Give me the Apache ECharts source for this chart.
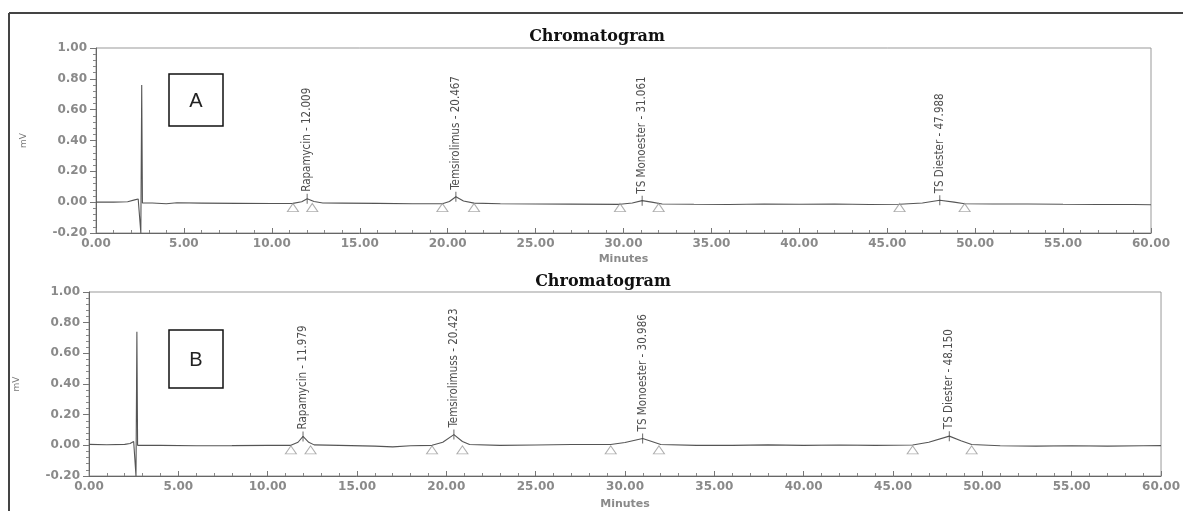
<!DOCTYPE html>
<html>
<head>
<meta charset="utf-8">
<script src="https://cdn.jsdelivr.net/npm/echarts@6/dist/echarts.min.js"></script>
<style>
html,body{margin:0;padding:0;background:#fff;}
#chart{width:1183px;height:511px;}
</style>
</head>
<body>
<div id="chart"></div>
<script>
// ---- Data ----
// Trace A: [minutes, mV]
const traceA = [
  [0,0.0],[1.0,0.0],[1.8,0.003],[2.2,0.015],[2.4,0.02],[2.5,0.015],[2.55,-0.2],[2.6,0.76],[2.64,-0.005],
  [3.2,-0.005],[4.0,-0.01],[4.6,-0.004],[6,-0.006],[8,-0.008],[10,-0.009],[11.2,-0.008],[11.7,0.003],
  [12.009,0.022],[12.4,0.004],[12.9,-0.005],[14,-0.006],[16,-0.008],[18,-0.01],[19.7,-0.01],[20.1,0.004],
  [20.467,0.035],[20.9,0.008],[21.5,-0.006],[23,-0.01],[25,-0.012],[27,-0.013],[29.8,-0.014],[30.5,-0.005],
  [31.061,0.01],[31.6,0.0],[32.2,-0.012],[34,-0.014],[36,-0.015],[38,-0.012],[40,-0.014],[42,-0.012],
  [44,-0.015],[45.7,-0.014],[47,-0.005],[47.988,0.012],[48.8,0.0],[49.4,-0.01],[51,-0.012],[53,-0.012],
  [55,-0.014],[57,-0.015],[59,-0.015],[60,-0.017]
];
// Trace B: [minutes, mV]
const traceB = [
  [0,0.006],[1,0.004],[2,0.006],[2.3,0.012],[2.5,0.025],[2.6,0.03],[2.63,-0.2],[2.68,0.74],[2.72,0.0],
  [4,0.0],[6,-0.003],[8,-0.002],[10,0.0],[11.3,0.0],[11.7,0.02],[11.979,0.058],[12.3,0.02],[12.6,0.003],
  [14,0.0],[16,-0.005],[17,-0.01],[18,-0.003],[19.2,0.0],[19.8,0.02],[20.423,0.07],[20.9,0.025],[21.3,0.005],
  [23,0.0],[25,0.002],[27,0.005],[29.2,0.005],[30,0.018],[30.986,0.045],[31.5,0.025],[32,0.005],[34,0.0],
  [36,0.0],[38,0.003],[40,0.0],[42,0.002],[44,0.0],[46.1,0.002],[47,0.02],[48.15,0.06],[48.8,0.03],
  [49.4,0.005],[51,-0.003],[53,-0.005],[55,-0.003],[57,-0.005],[59,-0.003],[60,-0.002]
];
const peakNamesA = ["Rapamycin - 12.009", "Temsirolimus - 20.467", "TS Monoester - 31.061", "TS Diester - 47.988"];
const peakTimesA = [12.009, 20.467, 31.061, 47.988];
const peakHeightsA = [0.022, 0.035, 0.01, 0.012];
const peakNamesB = ["Rapamycin - 11.979", "Temsirolimuss - 20.423", "TS Monoester - 30.986", "TS Diester - 48.150"];
const peakTimesB = [11.979, 20.423, 30.986, 48.150];
const peakHeightsB = [0.058, 0.07, 0.045, 0.06];
const markerTimesA = [11.2, 12.3, 19.7, 21.5, 29.8, 32.0, 45.7, 49.4];
const markerTimesB = [11.3, 12.4, 19.2, 20.9, 29.2, 31.9, 46.1, 49.4];
const markerLevelA = -0.035;
const markerLevelB = -0.03;
const chartTitles = ["Chromatogram", "Chromatogram"];
const panelLetters = ["A", "B"];
const yTicks = { min: -0.2, max: 1.0, interval: 0.2 };
const xTicks = { min: 0, max: 60, interval: 5 };

// ---- Chart ----
const chart = echarts.init(document.getElementById('chart'), null, { renderer: 'canvas' });
const tickFont = { color: '#8a8a8a', fontFamily: 'DejaVu Sans', fontWeight: 'bold', fontSize: 12 };
const peakFont = "'Liberation Sans Narrow', 'DejaVu Sans Condensed', 'Liberation Sans', sans-serif";

function xAxisCfg(gridIndex, gap) {
  return {
    type: 'value', gridIndex, min: xTicks.min, max: xTicks.max, interval: xTicks.interval,
    name: 'Minutes', nameLocation: 'middle', nameGap: gap,
    nameTextStyle: { color: '#8a8a8a', fontFamily: 'DejaVu Sans', fontWeight: 'bold', fontSize: 11 },
    axisLine: { show: true, onZero: false, lineStyle: { color: '#666', width: 1 } },
    axisTick: { show: true, inside: true, length: 5, lineStyle: { color: '#777' } },
    minorTick: { show: true, splitNumber: 5, length: 3, lineStyle: { color: '#888' } },
    axisLabel: Object.assign({ margin: 5, formatter: v => v.toFixed(2), showMinLabel: true, showMaxLabel: true }, tickFont),
    splitLine: { show: false }
  };
}
function yAxisCfg(gridIndex) {
  return {
    type: 'value', gridIndex, min: yTicks.min, max: yTicks.max, interval: yTicks.interval,
    name: 'mV', nameLocation: 'middle', nameGap: 68, nameRotate: 90,
    nameTextStyle: { color: '#777', fontFamily: 'DejaVu Sans', fontSize: 9 },
    axisLine: { show: true, onZero: false, lineStyle: { color: '#666', width: 1 } },
    axisTick: { show: true, inside: false, length: 6, lineStyle: { color: '#777' } },
    minorTick: { show: true, splitNumber: 5, length: 3, lineStyle: { color: '#888' } },
    axisLabel: Object.assign({ margin: 9, formatter: v => v.toFixed(2) }, tickFont),
    splitLine: { show: false }
  };
}
function peakSeries(idx, times, heights, names) {
  return {
    type: 'scatter', xAxisIndex: idx, yAxisIndex: idx, z: 5,
    symbol: 'rect', symbolSize: [1, 10],
    itemStyle: { color: '#444' },
    data: times.map((t, i) => [t, heights[i]]),
    label: {
      show: true, position: 'top', distance: 2, rotate: 90, align: 'left', verticalAlign: 'middle',
      formatter: p => names[p.dataIndex],
      color: '#222', fontFamily: peakFont, fontSize: 11.5
    },
    emphasis: { disabled: true }, silent: true
  };
}
function markerSeries(idx, times, level) {
  return {
    type: 'scatter', xAxisIndex: idx, yAxisIndex: idx, z: 4,
    symbol: 'triangle', symbolSize: [11, 8],
    itemStyle: { color: 'rgba(255,255,255,0)', borderColor: '#9a9a9a', borderWidth: 1 },
    data: times.map(t => [t, level]),
    emphasis: { disabled: true }, silent: true
  };
}

const option = {
  animation: false,
  backgroundColor: '#fff',
  grid: [
    { left: 96, right: 32, top: 48, height: 185, show: true, borderColor: '#999', borderWidth: 1, backgroundColor: 'transparent' },
    { left: 89, right: 16, top: 292, height: 184, show: true, borderColor: '#999', borderWidth: 1, backgroundColor: 'transparent' }
  ],
  xAxis: [xAxisCfg(0, 21), xAxisCfg(1, 23)],
  yAxis: [yAxisCfg(0), yAxisCfg(1)],
  series: [
    { type: 'line', xAxisIndex: 0, yAxisIndex: 0, data: traceA, showSymbol: false, symbol: 'none',
      lineStyle: { color: '#555', width: 1.1 }, silent: true },
    { type: 'line', xAxisIndex: 1, yAxisIndex: 1, data: traceB, showSymbol: false, symbol: 'none',
      lineStyle: { color: '#555', width: 1.1 }, silent: true },
    peakSeries(0, peakTimesA, peakHeightsA, peakNamesA),
    peakSeries(1, peakTimesB, peakHeightsB, peakNamesB),
    markerSeries(0, markerTimesA, markerLevelA),
    markerSeries(1, markerTimesB, markerLevelB)
  ],
  graphic: [
    { type: 'line', shape: { x1: 9, y1: 13, x2: 1183, y2: 13 }, style: { stroke: '#444', lineWidth: 2 } },
    { type: 'line', shape: { x1: 9, y1: 13, x2: 9, y2: 511 }, style: { stroke: '#444', lineWidth: 2 } },
    { type: 'text', x: 597, y: 37, style: { text: chartTitles[0], fill: '#111', font: 'bold 16px "DejaVu Serif", serif', textAlign: 'center', textVerticalAlign: 'middle' } },
    { type: 'text', x: 603, y: 282, style: { text: chartTitles[1], fill: '#111', font: 'bold 16px "DejaVu Serif", serif', textAlign: 'center', textVerticalAlign: 'middle' } },
    { type: 'rect', shape: { x: 169, y: 74, width: 54, height: 52 }, style: { fill: '#fff', stroke: '#111', lineWidth: 1.5 }, z: 10 },
    { type: 'text', x: 196, y: 101, z: 11, style: { text: panelLetters[0], fill: '#222', font: '20px "Liberation Sans", sans-serif', textAlign: 'center', textVerticalAlign: 'middle' } },
    { type: 'rect', shape: { x: 169, y: 330, width: 54, height: 58 }, style: { fill: '#fff', stroke: '#111', lineWidth: 1.5 }, z: 10 },
    { type: 'text', x: 196, y: 360, z: 11, style: { text: panelLetters[1], fill: '#222', font: '20px "Liberation Sans", sans-serif', textAlign: 'center', textVerticalAlign: 'middle' } }
  ]
};
chart.setOption(option);
</script>
</body>
</html>
